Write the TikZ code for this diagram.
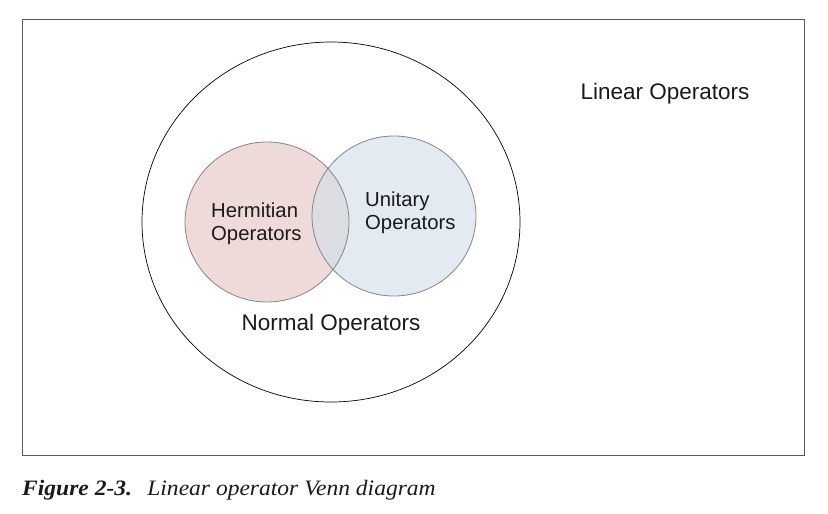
\documentclass[tikz,border=0pt]{standalone}
\usepackage{fontspec}
\usetikzlibrary{shapes.geometric}
\setmainfont{Liberation Serif}
\newfontfamily\arialf{Liberation Sans}
\definecolor{hermfill}{HTML}{EFDADA}
\definecolor{unifill}{HTML}{E4EAF2}
\definecolor{overfill}{HTML}{DCDDE2}
\definecolor{setline}{HTML}{858585}
\definecolor{textc}{HTML}{1A1A1A}
\tikzset{
  setlabel/.style={font=\arialf\fontsize{20.3}{23}\selectfont, text=textc, align=left, inner sep=0pt},
  biglabel/.style={font=\arialf\fontsize{22.5}{26}\selectfont, text=textc, inner sep=0pt},
  smallset/.style={draw=setline, line width=0.8pt},
}
\begin{document}
\begin{tikzpicture}[x=1pt,y=-1pt]
\useasboundingbox (0,0) rectangle (828,514);
\node[draw=black!65, line width=1.3pt, minimum width=782pt, minimum height=436pt, inner sep=0pt, anchor=north west] (frame) at (22,19) {};
\node[draw=black, line width=0.7pt, ellipse, minimum width=378pt, minimum height=360pt, inner sep=0pt] (normal) at (331,222) {};
% filled sets
\fill[hermfill] (267,222) ellipse [x radius=82, y radius=80];
\fill[unifill] (394,216) ellipse [x radius=82, y radius=80];
\begin{scope}
  \clip (267,222) ellipse [x radius=82, y radius=80];
  \fill[overfill] (394,216) ellipse [x radius=82, y radius=80];
\end{scope}
\draw[smallset] (267,222) ellipse [x radius=82, y radius=80];
\draw[smallset] (394,216) ellipse [x radius=82, y radius=80];
\node[setlabel, anchor=west] (herm) at (211,223.5) {Hermitian\\Operators};
\node[setlabel, anchor=west] (uni) at (365,212.5) {Unitary\\Operators};
\node[biglabel] (normlab) at (331,324.5) {Normal Operators};
\node[biglabel] (linlab) at (665,93.5) {Linear Operators};
\node[anchor=base west, inner sep=0pt, font=\fontsize{22}{25}\selectfont, text=textc] (cap) at (22,495) {\scalebox{1.07}[1]{\textbf{\textit{Figure 2-3.}}\hspace{0.65em}\textit{Linear operator Venn diagram}}};
\end{tikzpicture}
\end{document}
